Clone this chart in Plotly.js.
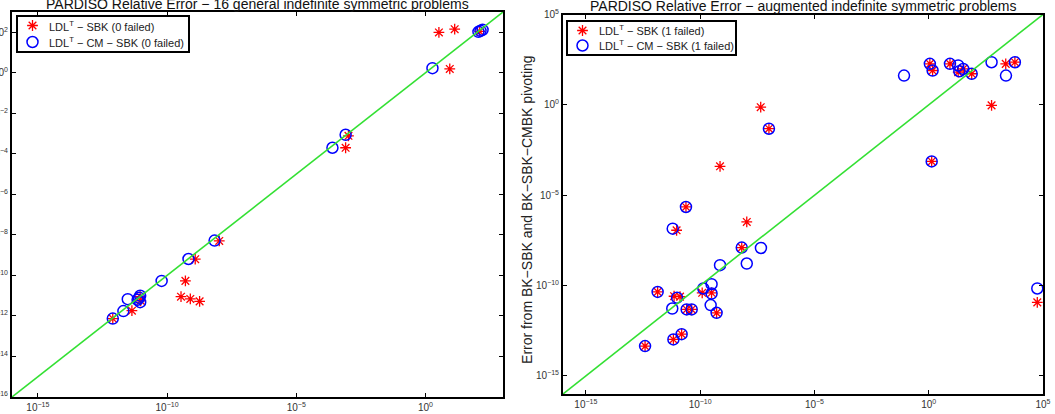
<!DOCTYPE html>
<html>
<head>
<meta charset="utf-8">
<script src="https://cdn.plot.ly/plotly-3.0.1.min.js"></script>
<style>
  html, body { margin: 0; padding: 0; background: #ffffff; }
  #chart { width: 1055px; height: 414px; }
</style>
</head>
<body>
<div id="chart"></div>
<script>
// Relative errors are stored as base-10 exponents: error = 10^value.
// x: error of the LDL^T factorization, y: error with BK pivoting.

// General indefinite symmetric problems
const generalSbkX   = [-12.10, -11.36, -11.02, -9.29, -9.46, -9.10, -8.74, -8.91, -7.98, -3.09, -2.98, 0.94, 0.52, 1.13, 2.10, -11.04];
const generalSbkY   = [-12.13, -11.74, -11.25, -10.27, -11.05, -11.16, -11.28, -9.20, -8.30, -3.70, -3.11, 0.19, 1.99, 2.15, 2.04, -11.05];
const generalCmSbkX = [-12.10, -11.69, -11.52, -11.04, -11.04, -11.14, -10.21, -9.17, -8.16, -3.60, -3.09, 0.27, 2.05, 2.21, -11.08, 2.13];
const generalCmSbkY = [-12.13, -11.76, -11.17, -11.00, -11.32, -11.20, -10.27, -9.19, -8.28, -3.70, -3.06, 0.23, 2.02, 2.12, -11.10, 2.07];

// Augmented indefinite symmetric problems
const augmentedSbkX = [-7.35, -6.99, -9.13, -10.62, -11.03, -7.96, -8.18, -11.86, -11.14, -10.88,
                       -10.59, -10.37, -9.91, -9.50, -9.28, -10.81, -11.17, -12.41, 0.05, 0.17,
                       0.93, 1.29, 1.51, 1.88, 3.37, 3.77, 2.75, 0.13, 4.75];
const augmentedSbkY = [-0.13, -1.32, -3.40, -5.65, -6.94, -6.48, -7.90, -10.35, -10.59, -10.61,
                       -11.32, -11.32, -10.40, -10.40, -11.51, -12.69, -12.98, -13.35, 2.27, 1.90,
                       2.27, 1.81, 1.99, 1.72, 2.27, 2.36, -0.03, -3.13, -10.93];
const augmentedCmSbkX = [-6.99, -10.62, -11.20, -8.18, -7.34, -9.13, -7.96, -11.86, -11.01, -11.22,
                         -10.59, -10.37, -9.86, -9.50, -9.50, -9.54, -9.28, -10.81, -11.17, -12.41,
                         -1.08, 0.05, 0.17, 0.93, 1.29, 1.34, 1.51, 1.88, 2.75, 3.38, 3.77, 0.13, 4.75];
const augmentedCmSbkY = [-1.32, -5.65, -6.85, -7.90, -7.92, -8.87, -8.78, -10.35, -10.67, -11.27,
                         -11.32, -11.32, -10.16, -9.92, -10.44, -11.08, -11.51, -12.69, -12.98, -13.35,
                         1.62, 2.27, 1.90, 2.27, 2.18, 1.86, 1.99, 1.72, 2.36, 1.62, 2.36, -3.13, -10.16];

// Axis extents (log10) and tick exponents
const generalRangeX = [-16, 3];
const generalRangeY = [-16, 3];
const augmentedRangeX = [-16, 5];
const augmentedRangeY = [-16, 5];
const generalTicksX = [-15, -10, -5, 0];
const generalTicksY = [-16, -14, -12, -10, -8, -6, -4, -2, 0, 2];
const augmentedTicks = [-15, -10, -5, 0, 5];

const generalTitle = 'PARDISO Relative Error \u2212 16 general indefinite symmetric problems';
const augmentedTitle = 'PARDISO Relative Error \u2212 augmented indefinite symmetric problems';
const yTitle = 'Error from BK\u2212SBK and BK\u2212SBK\u2212CMBK pivoting';
const generalNames = ['LDL<sup>T</sup> \u2212 SBK (0 failed)', 'LDL<sup>T</sup> \u2212 CM \u2212 SBK (0 failed)'];
const augmentedNames = ['LDL<sup>T</sup> \u2212 SBK (1 failed)', 'LDL<sup>T</sup> \u2212 CM \u2212 SBK (1 failed)'];

// Page geometry in pixels
const W = 1055, H = 414;
const M = { l: 12, r: 12, t: 12, b: 17 };
const leftBox  = { x0: 12,  x1: 503,  y0: 12,   y1: 397 };
const rightBox = { x0: 563, x1: 1043, y0: 14.5, y1: 394 };

const PW = W - M.l - M.r, PH = H - M.t - M.b;
const domX = b => [(b.x0 - M.l) / PW, (b.x1 - M.l) / PW];
const domY = b => [(H - M.b - b.y1) / PH, (H - M.b - b.y0) / PH];

const pow10 = arr => arr.map(v => Math.pow(10, v));
const powLabel = e => '10<sup>' + (e < 0 ? '\u2212' : '') + Math.abs(e) + '</sup>';

const FONT = 'Liberation Sans, Arial, Helvetica, sans-serif';
const starMarker = { symbol: 'asterisk-open', size: 9, color: '#ff0000', line: { color: '#ff0000', width: 1.3 } };
const ringMarker = { symbol: 'circle-open', size: 11, color: '#0000ff', line: { color: '#0000ff', width: 1.5 } };
const diagLine = { color: '#33e033', width: 1.6 };

const tickFont = { family: FONT, size: 10, color: '#333333' };

function logAxis(range, ticks, extra) {
  return Object.assign({
    type: 'log', range: range, tickmode: 'array',
    tickvals: pow10(ticks), ticktext: ticks.map(powLabel),
    ticks: 'inside', ticklen: 4, tickwidth: 1, tickcolor: '#000000',
    showline: true, linewidth: 2, linecolor: '#000000', mirror: 'ticks',
    showgrid: false, zeroline: false, tickfont: tickFont, fixedrange: true
  }, extra || {});
}

// Pixel-unit overlay axes, used to place the legend boxes inside each panel
function pixelAxes(box) {
  return [
    { overlaying: null, range: [0, box.x1 - box.x0], visible: false, fixedrange: true },
    { overlaying: null, range: [box.y1 - box.y0, 0], visible: false, fixedrange: true }
  ];
}

// Legend layout (pixels relative to each panel's top-left corner)
const legendSpecs = [
  { box: leftBox,  ax: 'x3', ay: 'y3', left: 5, top: 4,   width: 172, height: 36, rows: [9.5, 26],  names: generalNames },
  { box: rightBox, ax: 'x4', ay: 'y4', left: 4, top: 6.5, width: 169, height: 34, rows: [9.5, 24.5], names: augmentedNames }
];

const traces = [
  { x: pow10(generalSbkX), y: pow10(generalSbkY), mode: 'markers', type: 'scatter',
    name: generalNames[0], marker: starMarker, xaxis: 'x', yaxis: 'y' },
  { x: pow10(generalCmSbkX), y: pow10(generalCmSbkY), mode: 'markers', type: 'scatter',
    name: generalNames[1], marker: ringMarker, xaxis: 'x', yaxis: 'y' },
  { x: pow10(generalRangeX), y: pow10(generalRangeY), mode: 'lines', type: 'scatter',
    line: diagLine, xaxis: 'x', yaxis: 'y', hoverinfo: 'skip' },

  { x: pow10(augmentedSbkX), y: pow10(augmentedSbkY), mode: 'markers', type: 'scatter',
    name: augmentedNames[0], marker: starMarker, xaxis: 'x2', yaxis: 'y2' },
  { x: pow10(augmentedCmSbkX), y: pow10(augmentedCmSbkY), mode: 'markers', type: 'scatter',
    name: augmentedNames[1], marker: ringMarker, xaxis: 'x2', yaxis: 'y2' },
  { x: pow10(augmentedRangeX), y: pow10(augmentedRangeY), mode: 'lines', type: 'scatter',
    line: diagLine, xaxis: 'x2', yaxis: 'y2', hoverinfo: 'skip' }
];

const shapes = [];
const annotations = [];

legendSpecs.forEach(spec => {
  shapes.push({
    type: 'rect', xref: spec.ax, yref: spec.ay, layer: 'below',
    x0: spec.left, x1: spec.left + spec.width, y0: spec.top, y1: spec.top + spec.height,
    line: { color: '#000000', width: 2 }, fillcolor: '#ffffff'
  });
  [starMarker, ringMarker].forEach((mk, i) => {
    traces.push({
      x: [spec.left + 15.5], y: [spec.top + spec.rows[i]], mode: 'markers', type: 'scatter',
      marker: mk, xaxis: spec.ax, yaxis: spec.ay, hoverinfo: 'skip', cliponaxis: false
    });
    annotations.push({
      text: spec.names[i], xref: spec.ax, yref: spec.ay,
      x: spec.left + 30, y: spec.top + spec.rows[i], xanchor: 'left', yanchor: 'middle',
      showarrow: false, font: { family: FONT, size: 11, color: '#222222' }
    });
  });
});

// Panel titles and the shared y-axis label of the right panel
annotations.push(
  { text: generalTitle, xref: 'x domain', yref: 'y domain', x: 0.5, y: 1,
    xanchor: 'center', yanchor: 'bottom', yshift: -2, showarrow: false,
    font: { family: FONT, size: 14, color: '#111111' } },
  { text: augmentedTitle, xref: 'x2 domain', yref: 'y2 domain', x: 0.5, y: 1,
    xanchor: 'center', yanchor: 'bottom', yshift: -2, showarrow: false,
    font: { family: FONT, size: 14, color: '#111111' } },
  { text: yTitle, xref: 'paper', yref: 'y2 domain', x: (527 - M.l) / PW, y: 0.485,
    xanchor: 'center', yanchor: 'middle', textangle: -90, showarrow: false,
    font: { family: FONT, size: 14, color: '#222222' } }
);

const [x3, y3] = pixelAxes(leftBox);
const [x4, y4] = pixelAxes(rightBox);
x3.overlaying = 'x'; x3.anchor = 'y3';
y3.overlaying = 'y'; y3.anchor = 'x3';
x4.overlaying = 'x2'; x4.anchor = 'y4';
y4.overlaying = 'y2'; y4.anchor = 'x4';

const layout = {
  width: W, height: H,
  margin: M,
  paper_bgcolor: '#ffffff', plot_bgcolor: '#ffffff',
  showlegend: false,
  font: { family: FONT, color: '#000000' },
  xaxis: logAxis(generalRangeX, generalTicksX, { domain: domX(leftBox), anchor: 'y' }),
  yaxis: logAxis(generalRangeY, generalTicksY, { domain: domY(leftBox), anchor: 'x' }),
  xaxis2: logAxis(augmentedRangeX, augmentedTicks, { domain: domX(rightBox), anchor: 'y2' }),
  yaxis2: logAxis(augmentedRangeY, augmentedTicks, { domain: domY(rightBox), anchor: 'x2' }),
  xaxis3: x3, yaxis3: y3, xaxis4: x4, yaxis4: y4,
  shapes: shapes,
  annotations: annotations
};

Plotly.newPlot('chart', traces, layout, { displayModeBar: false, staticPlot: true });
</script>
</body>
</html>
